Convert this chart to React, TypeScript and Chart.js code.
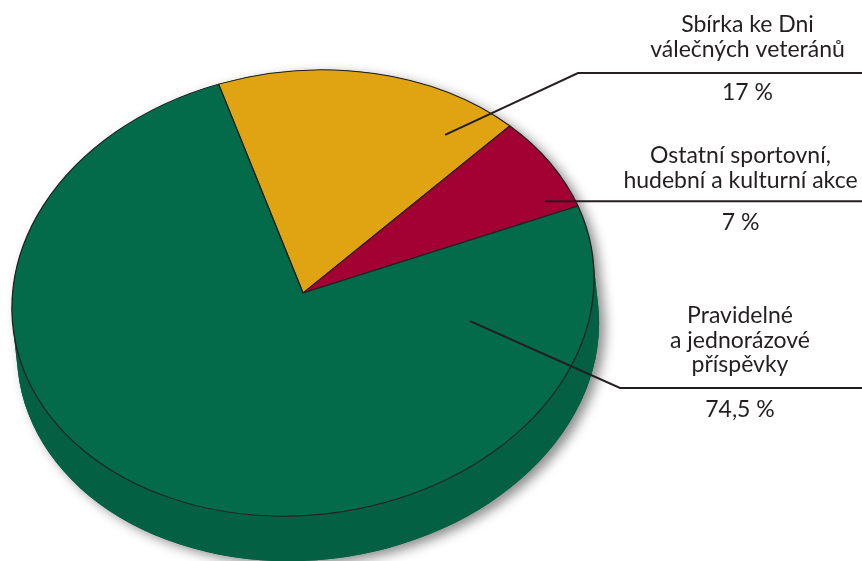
import React, { useEffect, useRef } from "react";
import { Chart, registerables } from "chart.js";

Chart.register(...registerables);

// ---- data ----
const categories: string[][] = [
  ["Sbírka ke Dni", "válečných veteránů"],
  ["Ostatní sportovní,", "hudební a kulturní akce"],
  ["Pravidelné", "a jednorázové", "příspěvky"],
];
const values: number[] = [17, 7, 74.5];
const valueLabels: string[] = ["17 %", "7 %", "74,5 %"];

// ---- styles ----
const colors = ["#e0a413", "#a30033", "#036a4a"];
const sideColors = ["#c8920f", "#8c002c", "#036043"];
const INK = "#231f20";
const W = 862;
const H = 561;
const ELL = { cx: 303, cy: 293, a: 292, b: 222, rot: (-6.9 * Math.PI) / 180, dx: 5, dy: 45 };
const LABEL_LAYOUT = [
  { t: 0.847, rf: 0.835, elbowX: 578 as number | null, lineY: 73, textX: 747.5, titleY: 32, valueY: 99.5 },
  { t: 0.84, rf: 0.905, elbowX: null as number | null, lineY: 0, textX: 740.5, titleY: 163, valueY: 230 },
  { t: 0.129, rf: 0.597, elbowX: 620 as number | null, lineY: 388, textX: 740, titleY: 323, valueY: 417 },
];
const LINE_H = 24.5;
const FONT = "23px Lato";

const TWO_PI = Math.PI * 2;

const pie3d = {
  id: "pie3d",
  beforeDatasetsDraw(chart: any) {
    const ctx: CanvasRenderingContext2D = chart.ctx;
    const arcs = chart.getDatasetMeta(0).data as any[];
    if (!arcs.length) return;
    const { cx, cy, a, b, rot, dx, dy } = ELL;
    const c = Math.cos(rot);
    const s = Math.sin(rot);
    const du = c * dx + s * dy;
    const dv = -s * dx + c * dy;
    const t1 = Math.atan2(-b * du, a * dv);

    // silhouette with drop shadow
    ctx.save();
    ctx.shadowColor = "rgba(0,0,0,0.45)";
    ctx.shadowBlur = 12;
    ctx.shadowOffsetX = 6;
    ctx.shadowOffsetY = 4;
    ctx.fillStyle = sideColors[2];
    ctx.beginPath();
    ctx.ellipse(cx, cy, a, b, rot, t1 + Math.PI, t1 + TWO_PI, false);
    ctx.ellipse(cx + dx, cy + dy, a, b, rot, t1, t1 + Math.PI, false);
    ctx.closePath();
    ctx.fill();
    ctx.restore();

    // side walls per slice
    arcs.forEach((arc, i) => {
      let s0 = arc.startAngle;
      const span = arc.endAngle - arc.startAngle;
      while (s0 < t1) s0 += TWO_PI;
      while (s0 >= t1 + TWO_PI) s0 -= TWO_PI;
      const e0 = s0 + span;
      const ranges = [
        [t1, t1 + Math.PI],
        [t1 + TWO_PI, t1 + TWO_PI + Math.PI],
      ];
      ranges.forEach(([lo, hi]) => {
        const p = Math.max(lo, s0);
        const q = Math.min(hi, e0);
        if (q - p <= 1e-6) return;
        ctx.save();
        ctx.fillStyle = sideColors[i];
        ctx.beginPath();
        ctx.ellipse(cx, cy, a, b, rot, p, q, false);
        ctx.ellipse(cx + dx, cy + dy, a, b, rot, q, p, true);
        ctx.closePath();
        ctx.fill();
        ctx.restore();
      });
    });

    // transform the flat pie into the tilted ellipse
    const el = arcs[0];
    const r = el.outerRadius;
    ctx.save();
    ctx.translate(cx, cy);
    ctx.rotate(rot);
    ctx.scale(a / r, b / r);
    ctx.translate(-el.x, -el.y);
  },
  afterDatasetsDraw(chart: any) {
    const ctx: CanvasRenderingContext2D = chart.ctx;
    ctx.restore();
    const arcs = chart.getDatasetMeta(0).data as any[];
    if (!arcs.length) return;
    const { cx, cy, a, b, rot } = ELL;
    const c = Math.cos(rot);
    const s = Math.sin(rot);
    ctx.save();
    ctx.strokeStyle = INK;
    ctx.lineWidth = 2;
    ctx.fillStyle = INK;
    ctx.font = FONT;
    ctx.textAlign = "center";
    ctx.textBaseline = "alphabetic";
    arcs.forEach((arc, i) => {
      const L = LABEL_LAYOUT[i];
      const ang = arc.startAngle + L.t * (arc.endAngle - arc.startAngle);
      const u = L.rf * a * Math.cos(ang);
      const v = L.rf * b * Math.sin(ang);
      const x0 = cx + c * u - s * v;
      const y0 = cy + s * u + c * v;
      ctx.beginPath();
      ctx.moveTo(x0, y0);
      if (L.elbowX !== null) {
        ctx.lineTo(L.elbowX, L.lineY);
        ctx.lineTo(W, L.lineY);
      } else {
        ctx.lineTo(W, y0);
      }
      ctx.stroke();
      categories[i].forEach((line, k) => {
        ctx.fillText(line, L.textX, L.titleY + k * LINE_H);
      });
      ctx.fillText(valueLabels[i], L.textX, L.valueY);
    });
    ctx.restore();
  },
};

export default function App() {
  const ref = useRef<HTMLCanvasElement | null>(null);
  useEffect(() => {
    document.body.style.margin = "0";
    if (!ref.current) return;
    const chart = new Chart(ref.current, {
      type: "pie",
      data: {
        labels: categories.map((l) => l.join(" ")),
        datasets: [
          {
            data: values,
            backgroundColor: colors,
            borderColor: INK,
            borderWidth: 1.2,
            clip: false as any,
          } as any,
        ],
      },
      options: {
        responsive: false,
        animation: false,
        rotation: -11.6,
        events: [],
        plugins: { legend: { display: false }, tooltip: { enabled: false } },
      },
      plugins: [pie3d as any],
    });
    return () => chart.destroy();
  }, []);
  return (
    <div style={{ width: W, height: H, position: "relative", overflow: "hidden", background: "#fff" }}>
      <canvas ref={ref} width={W} height={H} style={{ display: "block" }} />
    </div>
  );
}
